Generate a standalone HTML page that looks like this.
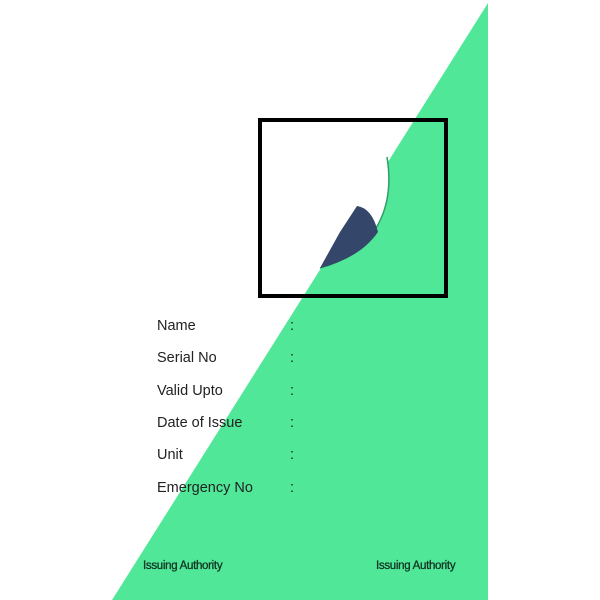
<!DOCTYPE html>
<html><head><meta charset="utf-8"><style>
body{margin:0;width:600px;height:600px;background:#fff;position:relative;overflow:hidden;font-family:"Liberation Sans",sans-serif}
.l{position:absolute;left:157px;font-size:14.5px;color:#222}
.c{position:absolute;left:290px;font-size:14.5px;color:#222}
.ia{position:absolute;top:560px;font-size:11.5px;color:#113322;letter-spacing:-0.3px;-webkit-text-stroke:0.3px #113322}
</style></head><body>
<svg width="600" height="600" style="position:absolute;left:0;top:0">
<polygon points="488,3 488,600 112,600" fill="#50e898"/>
<path d="M387,157 Q396,212 362,246 Q343,262 320,268 L391,157 Z" fill="#fff"/>
<path d="M387,157 Q396,212 362,246 Q343,262 320,268" fill="none" stroke="#2e9e68" stroke-width="1.5"/>
<path d="M320,268 L340,232 L357,206 Q372,208 378,232 Q360,258 320,268 Z" fill="#34466a"/>
<rect x="260" y="120" width="186" height="176" fill="none" stroke="#000" stroke-width="4"/>
</svg>
<div class="l" style="top:318px">Name</div><div class="c" style="top:318px">:</div>
<div class="l" style="top:350px">Serial No</div><div class="c" style="top:350px">:</div>
<div class="l" style="top:383px">Valid Upto</div><div class="c" style="top:383px">:</div>
<div class="l" style="top:415px">Date of Issue</div><div class="c" style="top:415px">:</div>
<div class="l" style="top:447px">Unit</div><div class="c" style="top:447px">:</div>
<div class="l" style="top:480px">Emergency No</div><div class="c" style="top:480px">:</div>
<div class="ia" style="left:143px">Issuing Authority</div>
<div class="ia" style="left:376px">Issuing Authority</div>
</body></html>
